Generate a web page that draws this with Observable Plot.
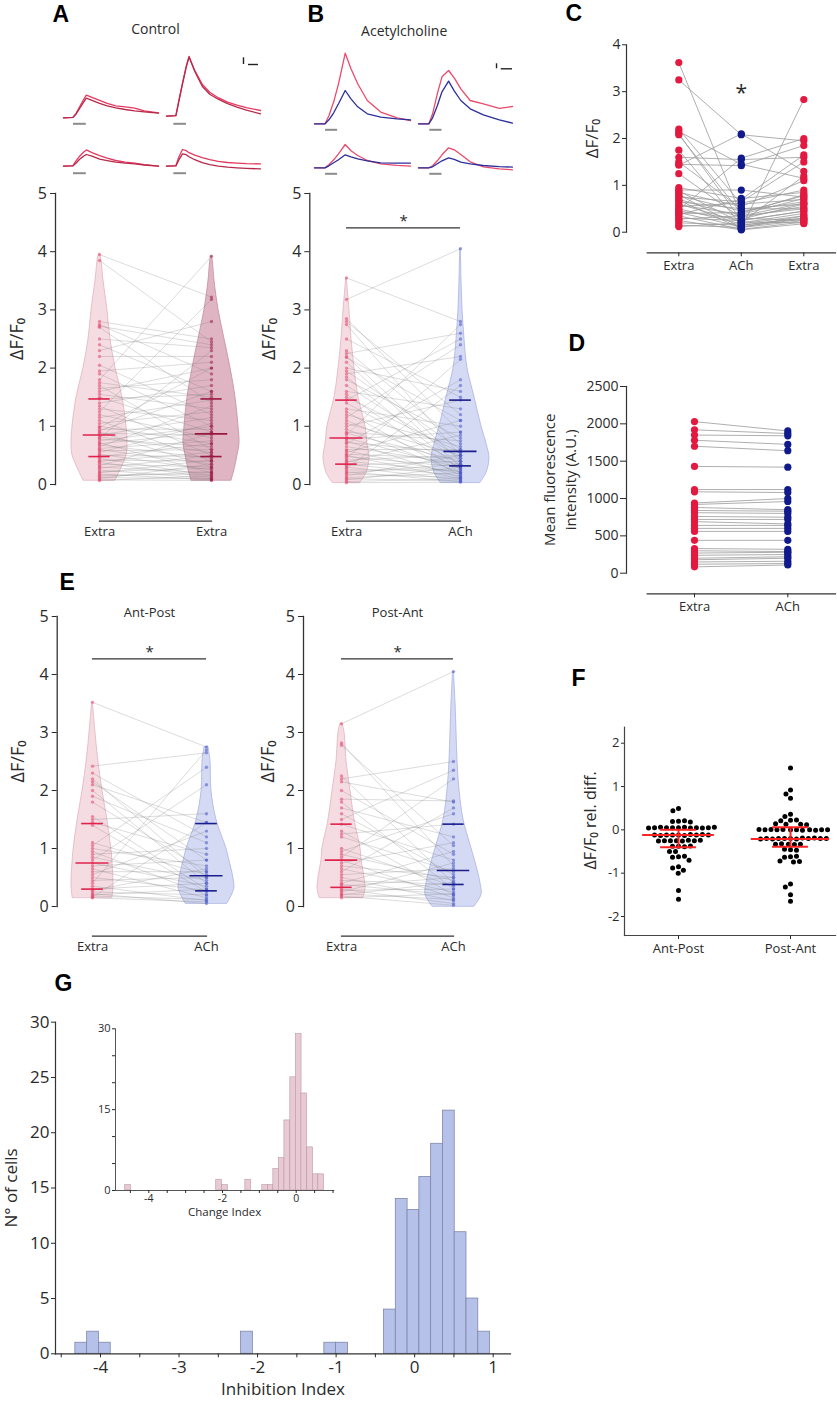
<!DOCTYPE html>
<html>
<head>
<meta charset="utf-8">
<script src="https://cdn.jsdelivr.net/npm/d3@7"></script>
<script src="https://cdn.jsdelivr.net/npm/@observablehq/plot@0.6"></script>
<style>
  html, body { margin: 0; padding: 0; background: #fff; }
  #fig { position: relative; width: 837px; height: 1404px; overflow: hidden; background: #fff; }
  #fig svg { position: absolute; left: 0; top: 0; }
</style>
</head>
<body>
<div id="fig"></div>
<script>
// ===================== DATA =====================
// Panel A – Control: paired ΔF/F0 (first Extra, second Extra)
const ctrlFirst = [3.95,3.85,2.8,2.75,2.72,2.7,2.5,2.4,2.3,2.2, 2.05,1.95,1.9,1.8,1.75,1.7,1.65,1.6,1.55,1.5, 1.47,1.4,1.35,1.3,1.25,1.2,1.15,1.1,1.05,1.0, 0.98,0.95,0.92,0.9,0.88,0.85,0.82,0.8,0.78,0.75, 0.72,0.7,0.68,0.65,0.62,0.6,0.58,0.55,0.52,0.5, 0.48,0.45,0.42,0.4,0.38,0.35,0.32,0.3,0.28,0.25, 0.22,0.2,0.18,0.16,0.14,0.12,0.1,0.08,0.07];
const ctrlSecond = [3.22,2.45,2.5,1.9,2.4,1.4,2.35,1.6,2.8,2.2, 1.2,2.1,1.0,3.92,1.5,0.6,1.8,2.0,1.3,0.9, 1.55,1.7,0.5,1.1,3.18,0.8,1.45,0.4,1.25,0.7, 2.0,0.95,1.6,0.3,0.85,1.15,0.55,2.3,0.65,1.0, 0.2,0.9,0.45,1.35,0.75,0.35,0.6,1.05,0.25,0.48, 0.7,0.15,0.4,0.55,0.12,0.3,0.88,0.2,0.5,0.1, 0.28,0.42,0.08,0.18,0.22,0.1,0.35,0.07,0.15];
const ctrlStats1 = [0.48, 0.85, 1.47];   // q1, median, q3
const ctrlStats2 = [0.48, 0.87, 1.47];
const ctrlViolin1Y = [0.07,0.25,0.5,0.7,1.0,1.5,2.0,2.5,3.0,3.5,3.9,3.97];
const ctrlViolin1W = [0.143,0.188,0.241,0.25,0.241,0.205,0.143,0.098,0.071,0.036,0.013,0.003];
const ctrlViolin2Y = [0.07,0.25,0.5,0.7,1.0,1.5,2.0,2.5,3.0,3.5,3.85,3.93];
const ctrlViolin2W = [0.179,0.205,0.232,0.25,0.241,0.214,0.17,0.116,0.063,0.027,0.011,0.003];

// Panel B – Acetylcholine: paired (Extra, ACh)
const achExtra = [3.55,3.18,2.85,2.8,2.75,2.5,2.3,2.25,2.2,2.18, 2.1,2.0,1.95,1.9,1.85,1.8,1.7,1.6,1.55,1.5, 1.45,1.4,1.3,1.25,1.2,1.15,1.1,1.05,1.0,0.95, 0.9,0.88,0.85,0.8,0.78,0.75,0.72,0.7,0.65,0.6, 0.58,0.55,0.52,0.5,0.48,0.45,0.42,0.4,0.38,0.35, 0.33,0.3,0.28,0.25,0.22,0.2,0.18,0.15,0.12,0.1, 0.08,0.05,0.03];
const achACh = [2.8,4.05,0.9,1.2,0.5,1.5,0.7,2.6,0.4,1.1, 0.3,1.6,0.6,2.2,0.25,0.8,0.45,1.3,0.2,0.55, 2.5,0.35,1.0,0.15,0.65,2.4,0.3,0.5,1.45,0.2, 0.75,0.4,2.75,0.28,0.9,0.12,0.55,1.8,0.35,0.6, 0.18,1.1,0.45,0.1,0.3,2.15,0.5,0.22,0.85,0.15, 0.4,0.08,1.7,0.25,0.05,0.35,0.12,0.5,0.2,0.06, 0.3,0.1,0.04];
const achStats1 = [0.35, 0.8, 1.45];
const achStats2 = [0.32, 0.57, 1.45];
const achViolin1Y = [0.03,0.2,0.45,0.7,1.0,1.5,2.0,2.5,3.0,3.3,3.55];
const achViolin1W = [0.123,0.175,0.202,0.184,0.167,0.105,0.07,0.044,0.026,0.013,0.003];
const achViolin2Y = [0.03,0.2,0.45,0.7,1.0,1.5,2.0,2.5,3.0,3.5,4.05];
const achViolin2W = [0.175,0.228,0.254,0.228,0.184,0.123,0.061,0.035,0.018,0.009,0.003];

// Panel E – Ant-Post and Post-Ant: paired (Extra, ACh)
const apExtra = [3.52,2.42,2.3,2.2,2.15,2.1,2.0,1.9,1.8,1.55, 1.5,1.45,1.4,1.1,1.05,1.0,0.95,0.9,0.85,0.8, 0.75,0.7,0.65,0.6,0.55,0.5,0.45,0.4,0.35,0.3, 0.28,0.25,0.22,0.2,0.18,0.16,0.15];
const apACh = [2.75,2.65,1.2,0.5,0.8,1.45,0.4,1.1,0.6,0.3, 1.6,0.9,0.25,0.55,2.4,0.7,0.2,1.0,0.45,2.1, 0.35,0.8,0.15,0.6,1.3,0.28,0.5,2.7,0.1,0.4, 0.65,0.2,0.05,0.3,0.12,1.45,0.08];
const apStats1 = [0.3, 0.75, 1.43];
const apStats2 = [0.27, 0.53, 1.43];
const apViolin1Y = [0.15,0.3,0.5,0.8,1.0,1.5,2.0,2.5,3.0,3.52];
const apViolin1W = [0.174,0.183,0.183,0.174,0.165,0.13,0.087,0.052,0.026,0.003];
const apViolin2Y = [0.05,0.3,0.5,0.8,1.0,1.5,2.0,2.5,2.75];
const apViolin2W = [0.183,0.243,0.235,0.2,0.174,0.087,0.043,0.035,0.017];

const paExtra = [3.15,2.82,2.78,2.25,2.2,2.15,2.0,1.85,1.8,1.7, 1.6,1.5,1.42,1.3,1.25,1.2,1.0,0.95,0.9,0.85, 0.8,0.75,0.7,0.65,0.6,0.55,0.5,0.45,0.4,0.38, 0.35,0.3,0.28,0.25,0.22,0.2,0.18,0.15];
const paACh = [4.05,0.7,1.05,0.4,2.5,1.8,0.9,1.82,0.3,1.2, 0.55,2.35,0.8,0.2,1.42,0.6,0.35,1.6,0.45,2.2, 0.15,1.1,0.5,0.25,1.7,0.65,0.1,0.38,0.95,0.2, 0.5,0.05,0.3,0.75,0.12,0.42,0.02,0.22];
const paStats1 = [0.33, 0.8, 1.42];
const paStats2 = [0.38, 0.62, 1.42];
const paViolin1Y = [0.15,0.3,0.5,0.8,1.0,1.5,2.0,2.5,3.0,3.15];
const paViolin1W = [0.196,0.214,0.205,0.179,0.17,0.116,0.08,0.045,0.027,0.009];
const paViolin2Y = [0.0,0.2,0.4,0.7,1.0,1.5,2.0,2.5,3.0,3.5,4.05];
const paViolin2W = [0.188,0.25,0.241,0.205,0.161,0.089,0.054,0.036,0.027,0.018,0.004];

// Panel C: Extra -> ACh -> Extra (ΔF/F0)
const cCats = ["Extra", "ACh", "Extra"];
const cExtra1 = [3.62,3.25,2.2,2.15,2.1,2.08,1.75,1.6,1.5,1.45, 1.43,1.25,0.95,0.9,0.88,0.85,0.8,0.78,0.75,0.7, 0.68,0.65,0.6,0.58,0.55,0.5,0.48,0.45,0.42,0.4, 0.38,0.35,0.3,0.28,0.25,0.2,0.15,0.12];
const cACh = [0.35,2.08,0.6,1.45,0.25,0.4,0.15,1.55,0.5,1.42, 2.1,0.3,0.72,0.9,0.2,0.55,0.1,0.45,0.65,0.32, 0.08,0.5,0.22,0.38,0.62,0.18,1.58,0.28,0.12,0.42, 0.7,0.06,0.25,0.35,0.05,0.15,0.1,0.2];
const cExtra2 = [0.5,1.95,0.7,1.15,0.45,0.8,0.3,1.6,0.6,1.85, 1.3,0.25,0.85,0.75,0.4,1.1,0.35,0.65,1.5,0.55, 2.83,0.5,0.2,0.72,0.9,0.35,2.0,0.6,0.28,0.78, 1.65,0.22,0.45,0.62,0.18,0.3,0.25,1.2];

// Panel D: mean fluorescence intensity (A.U.)
const dCats = ["Extra", "ACh"];
const dExtra = [2030,1920,1850,1780,1700,1430,1120,1090,940,920, 880,840,810,760,720,690,640,600,560,440, 330,300,270,240,200,180,150,120,85];
const dACh = [1905,1870,1840,1725,1640,1420,1120,1080,1000,960, 850,830,800,750,720,660,640,600,560,440, 320,290,280,250,220,200,160,130,110];

// Panel F: relative difference
const fCats = ["Ant-Post", "Post-Ant"];
const fAntPost = [0.49,0.44, 0.2,0.19,0.21,0.18, 0.05,0.05,0.06,0.04,0.05,0.05,0.06,0.04,0.05,0.05,0.04,0.06, -0.12,-0.12,-0.13,-0.11,-0.12,-0.12,-0.13,-0.11,-0.12,-0.12, -0.25,-0.25,-0.26,-0.24,-0.25,-0.25,-0.26,-0.24, -0.38,-0.38,-0.39,-0.37, -0.5,-0.5, -0.62,-0.63,-0.61, -0.7, -0.85,-0.88, -0.93,-1.0, -1.4,-1.6];
const fPostAnt = [1.43, 0.92,0.83,0.73, 0.36,0.31, 0.22,0.23,0.21, 0.13,0.13,0.14,0.12, 0.0,0.0,0.01,-0.01,0.0,0.0,0.01,-0.01,0.0,0.0,0.01,0.0, -0.2,-0.2,-0.21,-0.19,-0.2,-0.2,-0.21,-0.19,-0.2,-0.2,-0.21,-0.2, -0.33,-0.34,-0.32,-0.33,-0.33, -0.46,-0.47,-0.45, -0.62,-0.63,-0.61, -0.73,-0.74,-0.72, -1.25,-1.32,-1.5,-1.65];
const fStatsAP = [-0.4, -0.12, 0.0];   // q1, median, q3
const fStatsPA = [-0.39, -0.21, 0.06];

// Panel G: histograms (bin start, count)
const inhibBinWidth = 0.15;
const inhibStart = [-4.32,-4.17,-4.02,-2.21,-1.15,-1.0,-0.39,-0.24,-0.09,0.06,0.21,0.36,0.51,0.66,0.81];
const inhibCount = [1,2,1,2,1,1,4,14,13,16,19,22,11,5,2];
const changeBinWidth = 0.155;
const changeStart = [-4.64,-2.17,-2.01,-1.38,-0.92,-0.77,-0.62,-0.47,-0.32,-0.16,-0.01,0.14,0.3,0.45,0.6];
const changeCount = [1,2,1,2,1,1,4,6,13,21,29,18,8,3,3];

// Example traces (time in % of sweep, amplitude in arbitrary ΔF units)
const tA = [0,10,13,17,21,24,30,38,46,55,65,75,85,100];
const trA1a = [0,0.5,4,11,18,22.7,20.5,17.5,14.5,12,11,9.6,7,5];
const trA1b = [0,0.5,3.5,9.5,15.5,19.7,17.5,14.5,12,10,8.3,7,6,4.7];
const trA2a = [0,0.5,15,33,50,59,46,32,24,18.5,14,11,8.5,5.7];
const trA2b = [0,0.5,14,32,49,59.7,45,30,22,17,12.5,9,6,2.4];
const trA3a = [0,0.5,5,10,14,16.3,13.5,10.5,8,5.7,4,3,1.5,0];
const trA3b = [0,0.3,3,7,10,11.7,10,7,5.5,4,3,2.3,1.2,0];
const trA4a = [0,0.5,9,16.7,15.5,13.5,11,8.5,6.5,4.8,3.7,3.1,2.6,2.3];
const trA4b = [0,0.3,6,12.3,11.5,9.5,6.5,3.5,1.5,0,-1,-1.7,-2.2,-2.7];
const tB = [0,11,15,20,25,32,38,45,55,69,86,100];
const trB1red = [0,0,8,22,40,70.6,55,40,23.3,11.7,6,3.3];
const trB1blue = [0,0,4,11,20,33.3,25,17,10,6.7,5,4];
const trB2red = [0,0,10,30,47,53.3,46,35,23.3,20,15.5,17.3];
const trB2blue = [0,0,6,18,32,42.7,33,23.3,15,9,4,0.7];
const trB3red = [0,0,3,8,14,23.3,17,12.3,7.3,4,2.5,1.7];
const trB3blue = [0,0,2,5,8,13,11,9,7,5,4.7,4.7];
const trB4red = [0,0,2,7,13,20,18,13.3,6,1,-1,-2];
const trB4blue = [0,0,1,4,7,10,8.5,5.7,4,2.3,1.2,0.7];

// Text
const panelLetters = ["A","B","C","D","E","F","G"];
const titles = ["Control", "Acetylcholine"];
const dfLabel = "ΔF/F\u2080";

// ===================== LAYOUT / HELPERS =====================
const W = 837, H = 1404;
const fig = document.getElementById("fig");
const FONT = "'Open Sans', 'Noto Sans', sans-serif";
const INK = "#2a2a2a";

function M(left, top, right, bottom) {
  return {marginLeft: left, marginTop: top, marginRight: W - right, marginBottom: H - bottom};
}
function place(opts) {
  const svg = Plot.plot(Object.assign({
    width: W, height: H,
    style: {background: "transparent", fontFamily: FONT, fontSize: "13px", color: INK, maxWidth: "none", overflow: "visible"}
  }, opts));
  svg.style.position = "absolute"; svg.style.left = "0px"; svg.style.top = "0px";
  fig.appendChild(svg);
  return svg;
}
// vertical (rotated) label centred on the frame's left side
function yLabel(text, dx, size, extra) {
  return Plot.text([text], Object.assign({frameAnchor: "left", textAnchor: "middle", lineAnchor: "middle", dx, rotate: -90, fontSize: size, fill: INK}, extra || {}));
}

const stylePink = {fill: "#f4d8df", stroke: "#e2b2bf", dot: "#e5456d", stat: "#e0224d"};
const styleMauve = {fill: "#dcadbc", stroke: "#c48da0", dot: "#9e1d47", stat: "#9a173f"};
const styleBlue = {fill: "#cfd6f3", stroke: "#a9b3e2", dot: "#4a59c9", stat: "#1a1d8c"};

function violinPanel(cfg) {
  const {ax, c0, c1, y0, y5, first, second, v1, v2, s1, s2, st1, st2, sig, title, ylabX, lineY, labels} = cfg;
  const rows = first.map((a, i) => ({a, b: second[i]}));
  const vrows = (ys, ws) => ys.map((y, i) => ({y, w: ws[i]}));
  const marks = [];
  [[v1, 0, st1], [v2, 1, st2]].forEach(([v, k, st]) => {
    marks.push(Plot.areaX(vrows(v[0], v[1]), {y: "y", x1: d => k - d.w, x2: d => k + d.w,
      fill: st.fill, fillOpacity: 0.9, stroke: st.stroke, strokeWidth: 0.8, curve: "catmull-rom"}));
  });
  marks.push(Plot.link(rows, {x1: 0, x2: 1, y1: "a", y2: "b", stroke: "#7a7a7a", strokeOpacity: 0.45, strokeWidth: 0.6}));
  [[first, 0, st1], [second, 1, st2]].forEach(([vals, k, st]) => {
    marks.push(Plot.dot(vals, {x: k, y: d => d, r: 1.7, fill: st.dot, fillOpacity: 0.55}));
  });
  [[s1, 0, st1], [s2, 1, st2]].forEach(([s, k, st]) => {
    marks.push(Plot.ruleY(s, {y: d => d, x1: (d, i) => k - (i === 1 ? 0.145 : 0.095), x2: (d, i) => k + (i === 1 ? 0.145 : 0.095),
      stroke: st.stat, strokeWidth: 1.6}));
  });
  if (sig != null) {
    marks.push(Plot.ruleY([sig], {x1: 0, x2: 1, stroke: "#333", strokeWidth: 1.2}));
    marks.push(Plot.text(["*"], {x: 0.5, y: sig, lineAnchor: "bottom", dy: -2, fontSize: 15, fill: INK}));
  }
  if (title) marks.push(Plot.text([title], {x: 0.5, y: 5, lineAnchor: "bottom", fontSize: 13, fill: INK}));
  marks.push(Plot.frame({anchor: "left", stroke: "#333", strokeWidth: 1.3}));
  marks.push(Plot.axisY({ticks: [0, 1, 2, 3, 4, 5], tickFormat: d => String(d), tickSize: 5, tickPadding: 3.5, fontSize: 16, label: null}));
  marks.push(yLabel(dfLabel, ylabX - ax, 18));
  place(Object.assign(M(ax, y5, c1 + 60, y0), {
    x: {domain: [0, 1], range: [c0, c1], axis: null, label: null},
    y: {domain: [0, 5], label: null},
    marks
  }));
  // bottom bracket line with category labels
  place(Object.assign(M(c0, 0, c1, lineY), {
    x: {domain: [0, 1], range: [c0, c1], label: null},
    marks: [
      Plot.frame({anchor: "bottom", stroke: "#333", strokeWidth: 1.2}),
      Plot.axisX({ticks: [0, 1], tickFormat: i => labels[i], tickSize: 0, tickPadding: 6, fontSize: 13, label: null})
    ]
  }));
}

function trace(t, series, colors, xr, base, stim, stimDy, extra) {
  place(Object.assign(M(xr[0], base - 90, xr[1], base + 20), {
    x: {domain: [0, 100], range: xr, axis: null},
    y: {domain: [0, 10], range: [base, base - 10], axis: null},
    marks: [
      ...series.map((s, i) => Plot.line(t, {x: d => d, y: (d, j) => s[j], stroke: colors[i], strokeWidth: 1.3})),
      Plot.ruleY([stim], {x1: "t1", x2: "t2", y: stimDy, stroke: "#8c8c8c", strokeWidth: 2}),
      ...(extra || [])
    ]
  }));
}

// ===================== TRACES (A, B) =====================
const redA = "#e63a60", darkA = "#b8284a", redB = "#ec4a6c", blueB = "#2b2f9c";
trace(tA, [trA1a, trA1b], [redA, darkA], [63, 158], 117.3, {t1: 10.5, t2: 24}, -6);
trace(tA, [trA2a, trA2b], [redA, darkA], [166, 260], 115.7, {t1: 7.8, t2: 21.3}, -7.6, [
  Plot.ruleX([81.9], {y1: 51.7, y2: 58.4, stroke: "#222", strokeWidth: 1.4}),
  Plot.ruleY([51.7], {x1: 87.2, x2: 97.9, stroke: "#222", strokeWidth: 1.4})
]);
trace(tA, [trA3a, trA3b], [redA, darkA], [63, 158], 165.7, {t1: 10.5, t2: 24}, -7);
trace(tA, [trA4a, trA4b], [redA, darkA], [166, 260], 165.7, {t1: 7.8, t2: 21.3}, -7);

trace(tB, [trB1red, trB1blue], [redB, blueB], [314, 410], 123.3, {t1: 11.5, t2: 24}, -6);
trace(tB, [trB2red, trB2blue], [redB, blueB], [418, 512], 123.3, {t1: 12, t2: 25}, -6, [
  Plot.ruleX([83], {y1: 55, y2: 60, stroke: "#222", strokeWidth: 1.4}),
  Plot.ruleY([55], {x1: 88, x2: 100, stroke: "#222", strokeWidth: 1.4})
]);
trace(tB, [trB3red, trB3blue], [redB, blueB], [314, 410], 167.3, {t1: 11.5, t2: 24}, -6);
trace(tB, [trB4red, trB4blue], [redB, blueB], [418, 512], 167.3, {t1: 12, t2: 25}, -6);

// ===================== VIOLINS (A, B, E) =====================
violinPanel({ax: 55, c0: 99, c1: 211, y0: 484, y5: 193, first: ctrlFirst, second: ctrlSecond,
  v1: [ctrlViolin1Y, ctrlViolin1W], v2: [ctrlViolin2Y, ctrlViolin2W], s1: ctrlStats1, s2: ctrlStats2,
  st1: stylePink, st2: styleMauve, sig: null, title: null, ylabX: 17, lineY: 520.7, labels: ["Extra", "Extra"]});
violinPanel({ax: 309.3, c0: 346, c1: 460, y0: 484, y5: 193, first: achExtra, second: achACh,
  v1: [achViolin1Y, achViolin1W], v2: [achViolin2Y, achViolin2W], s1: achStats1, s2: achStats2,
  st1: stylePink, st2: styleBlue, sig: 4.41, title: null, ylabX: 268.5, lineY: 520.7, labels: ["Extra", "ACh"]});
violinPanel({ax: 56.7, c0: 92, c1: 206, y0: 906, y5: 616, first: apExtra, second: apACh,
  v1: [apViolin1Y, apViolin1W], v2: [apViolin2Y, apViolin2W], s1: apStats1, s2: apStats2,
  st1: stylePink, st2: styleBlue, sig: 4.27, title: "Ant-Post", ylabX: 17.5, lineY: 935.7, labels: ["Extra", "ACh"]});
violinPanel({ax: 303, c0: 341, c1: 453, y0: 906, y5: 616, first: paExtra, second: paACh,
  v1: [paViolin1Y, paViolin1W], v2: [paViolin2Y, paViolin2W], s1: paStats1, s2: paStats2,
  st1: stylePink, st2: styleBlue, sig: 4.27, title: "Post-Ant", ylabX: 267.5, lineY: 935.7, labels: ["Extra", "ACh"]});

// ===================== PANEL C =====================
const RED = "#e3193f", NAVY = "#111a8c";
{
  const rows = cExtra1.map((a, i) => ({a, b: cACh[i], c: cExtra2[i]}));
  place(Object.assign(M(626, 44.3, 835, 231.7), {
    x: {domain: [0, 2], range: [678.3, 803.3], axis: null, label: null},
    y: {domain: [0, 4], label: null},
    marks: [
      Plot.link(rows, {x1: 0, x2: 1, y1: "a", y2: "b", stroke: "#9a9a9a", strokeWidth: 0.8}),
      Plot.link(rows, {x1: 1, x2: 2, y1: "b", y2: "c", stroke: "#9a9a9a", strokeWidth: 0.8}),
      Plot.dot(cExtra1, {x: 0, y: d => d, r: 3.6, fill: RED}),
      Plot.dot(cACh, {x: 1, y: d => d, r: 3.6, fill: NAVY}),
      Plot.dot(cExtra2, {x: 2, y: d => d, r: 3.6, fill: RED}),
      Plot.text(["*"], {x: 1, y: 2.97, fontSize: 21, fill: INK}),
      Plot.frame({anchor: "left", stroke: "#333", strokeWidth: 1.2}),
      Plot.axisY({ticks: [0, 1, 2, 3, 4], tickFormat: d => String(d), tickSize: 4, tickPadding: 2, fontSize: 14, label: null}),
      yLabel(dfLabel, 592.5 - 626, 17)
    ]
  }));
  place(Object.assign(M(646.7, 0, 835, 252.3), {
    x: {domain: [0, 2], range: [678.3, 803.3], label: null},
    marks: [
      Plot.frame({anchor: "bottom", stroke: "#333", strokeWidth: 1.2}),
      Plot.axisX({ticks: [0, 1, 2], tickFormat: i => cCats[i], tickSize: 4, tickPadding: 4, fontSize: 13, label: null})
    ]
  }));
}

// ===================== PANEL D =====================
{
  const rows = dExtra.map((a, i) => ({a, b: dACh[i]}));
  place(Object.assign(M(626, 386, 835, 572.7), {
    x: {domain: [0, 1], range: [694, 787.3], axis: null, label: null},
    y: {domain: [0, 2500], label: null},
    marks: [
      Plot.link(rows, {x1: 0, x2: 1, y1: "a", y2: "b", stroke: "#9a9a9a", strokeWidth: 0.8}),
      Plot.dot(dExtra, {x: 0, y: d => d, r: 3.6, fill: RED}),
      Plot.dot(dACh, {x: 1, y: d => d, r: 3.6, fill: NAVY}),
      Plot.frame({anchor: "left", stroke: "#333", strokeWidth: 1.2}),
      Plot.axisY({ticks: [0, 500, 1000, 1500, 2000, 2500], tickFormat: d => String(d), tickSize: 6, tickPadding: 2, fontSize: 14, label: null}),
      yLabel("Mean fluorescence\nintensity (A.U.)", 558 - 626, 15, {lineHeight: 1.45})
    ]
  }));
  place(Object.assign(M(646.7, 0, 835, 593.3), {
    x: {domain: [0, 1], range: [694, 787.3], label: null},
    marks: [
      Plot.frame({anchor: "bottom", stroke: "#333", strokeWidth: 1.2}),
      Plot.axisX({ticks: [0, 1], tickFormat: i => dCats[i], tickSize: 4, tickPadding: 4, fontSize: 13, label: null})
    ]
  }));
}

// ===================== PANEL F =====================
[[fAntPost, 678], [fPostAnt, 790]].forEach(([vals, cx]) => {
  place(Object.assign(M(cx - 60, 726.7, cx + 60, 935), {
    y: {domain: [-2, 2], range: [916, 742.7], axis: null, label: null},
    marks: [Plot.dot(vals, Plot.dodgeX("middle", {y: d => d, r: 2.5, fill: "#000", padding: 0.4}))]
  }));
});
place(Object.assign(M(624, 726.7, 835, 935), {
  x: {domain: [0, 1], range: [678, 790], label: null},
  y: {domain: [-2, 2], range: [916, 742.7], label: null},
  marks: [
    ...[[fStatsAP, 0, 0.32], [fStatsPA, 1, 0.35]].flatMap(([s, k, w]) => [
      Plot.ruleX([k], {y1: s[0], y2: s[2], stroke: "#ff2323", strokeWidth: 2}),
      Plot.ruleY(s, {y: d => d, x1: (d, i) => k - (i === 1 ? w : 0.16), x2: (d, i) => k + (i === 1 ? w : 0.16), stroke: "#ff2323", strokeWidth: 2})
    ]),
    Plot.frame({anchor: "left", stroke: "#444", strokeWidth: 1.2}),
    Plot.frame({anchor: "bottom", stroke: "#444", strokeWidth: 1.2}),
    Plot.axisY({ticks: [-2, -1, 0, 1, 2], tickFormat: d => String(d), tickSize: 3, tickPadding: 2, fontSize: 13, label: null}),
    Plot.axisX({ticks: [0, 1], tickFormat: i => fCats[i], tickSize: 4, tickPadding: 4, fontSize: 13, label: null}),
    yLabel(dfLabel + " rel. diff.", 590 - 624, 16, {dy: -11})
  ]
}));

// ===================== PANEL G =====================
{
  const main = inhibStart.map((s, i) => ({x1: s, x2: s + inhibBinWidth, n: inhibCount[i]}));
  place(Object.assign(M(55, 1021.7, 510, 1353.3), {
    x: {domain: [-4, 1], range: [100, 492.7], label: null},
    y: {domain: [0, 30], label: null},
    marks: [
      Plot.rect(main, {x1: "x1", x2: "x2", y1: 0, y2: "n", fill: "#b6c1ea", stroke: "#7e87a6", strokeWidth: 0.8}),
      Plot.frame({anchor: "left", stroke: "#333", strokeWidth: 1.2}),
      Plot.frame({anchor: "bottom", stroke: "#333", strokeWidth: 1.2}),
      Plot.axisY({ticks: d3.range(0, 31, 5), tickFormat: d => String(d), tickSize: 4, tickPadding: 2, fontSize: 17, label: null}),
      Plot.axisX({ticks: d3.range(-4.5, 1.01, 0.5), tickFormat: d => Number.isInteger(d) ? String(d) : "", tickSize: 4, tickPadding: 3, fontSize: 17, label: null}),
      yLabel("N° of cells", 11.5 - 55, 17),
      Plot.text(["Inhibition Index"], {frameAnchor: "bottom", textAnchor: "middle", dy: 41, fontSize: 17, fill: INK})
    ]
  }));
  const inset = changeStart.map((s, i) => ({x1: s, x2: s + changeBinWidth, n: changeCount[i]}));
  place(Object.assign(M(115, 1028.3, 333.3, 1190), {
    x: {domain: [-4, 0], range: [148.3, 295.7], label: null},
    y: {domain: [0, 30], label: null},
    marks: [
      Plot.rect(inset, {x1: "x1", x2: "x2", y1: 0, y2: "n", fill: "#e9c9d3", stroke: "#b79aa4", strokeWidth: 0.6}),
      Plot.frame({anchor: "left", stroke: "#555", strokeWidth: 1}),
      Plot.frame({anchor: "bottom", stroke: "#555", strokeWidth: 1}),
      Plot.axisY({ticks: d3.range(0, 31, 5), tickFormat: d => d % 15 === 0 ? String(d) : "", tickSize: 3, tickPadding: 2, fontSize: 11, label: null}),
      Plot.axisX({ticks: d3.range(-4.5, 1.01, 0.5), tickFormat: d => (d === -4 || d === -2 || d === 0) ? String(d) : "", tickSize: 3, tickPadding: 1, fontSize: 10.5, label: null}),
      Plot.text(["Change Index"], {frameAnchor: "bottom", textAnchor: "middle", dy: 25, fontSize: 11.5, fill: INK})
    ]
  }));
}

// ===================== ANNOTATIONS (panel letters, titles) =====================
{
  const letterX = [52, 307, 565, 568, 59, 571, 54];
  const letterY = [21.7, 21.7, 20, 350, 589, 685, 990];
  const titleX = [155, 403.7];
  const titleY = [33.3, 35.7];
  place(Object.assign(M(0, 0, W, H), {
    x: {domain: [0, W], range: [0, W], axis: null},
    y: {domain: [0, H], range: [0, H], axis: null},
    marks: [
      Plot.text(panelLetters, {x: (d, i) => letterX[i], y: (d, i) => letterY[i], textAnchor: "start", lineAnchor: "bottom",
        fontSize: 23, fontWeight: "bold", fontFamily: "'Liberation Sans', Arial, sans-serif", fill: "#000"}),
      Plot.text(titles, {x: (d, i) => titleX[i], y: (d, i) => titleY[i], lineAnchor: "bottom", fontSize: 14, fill: INK})
    ]
  }));
}
</script>
</body>
</html>
